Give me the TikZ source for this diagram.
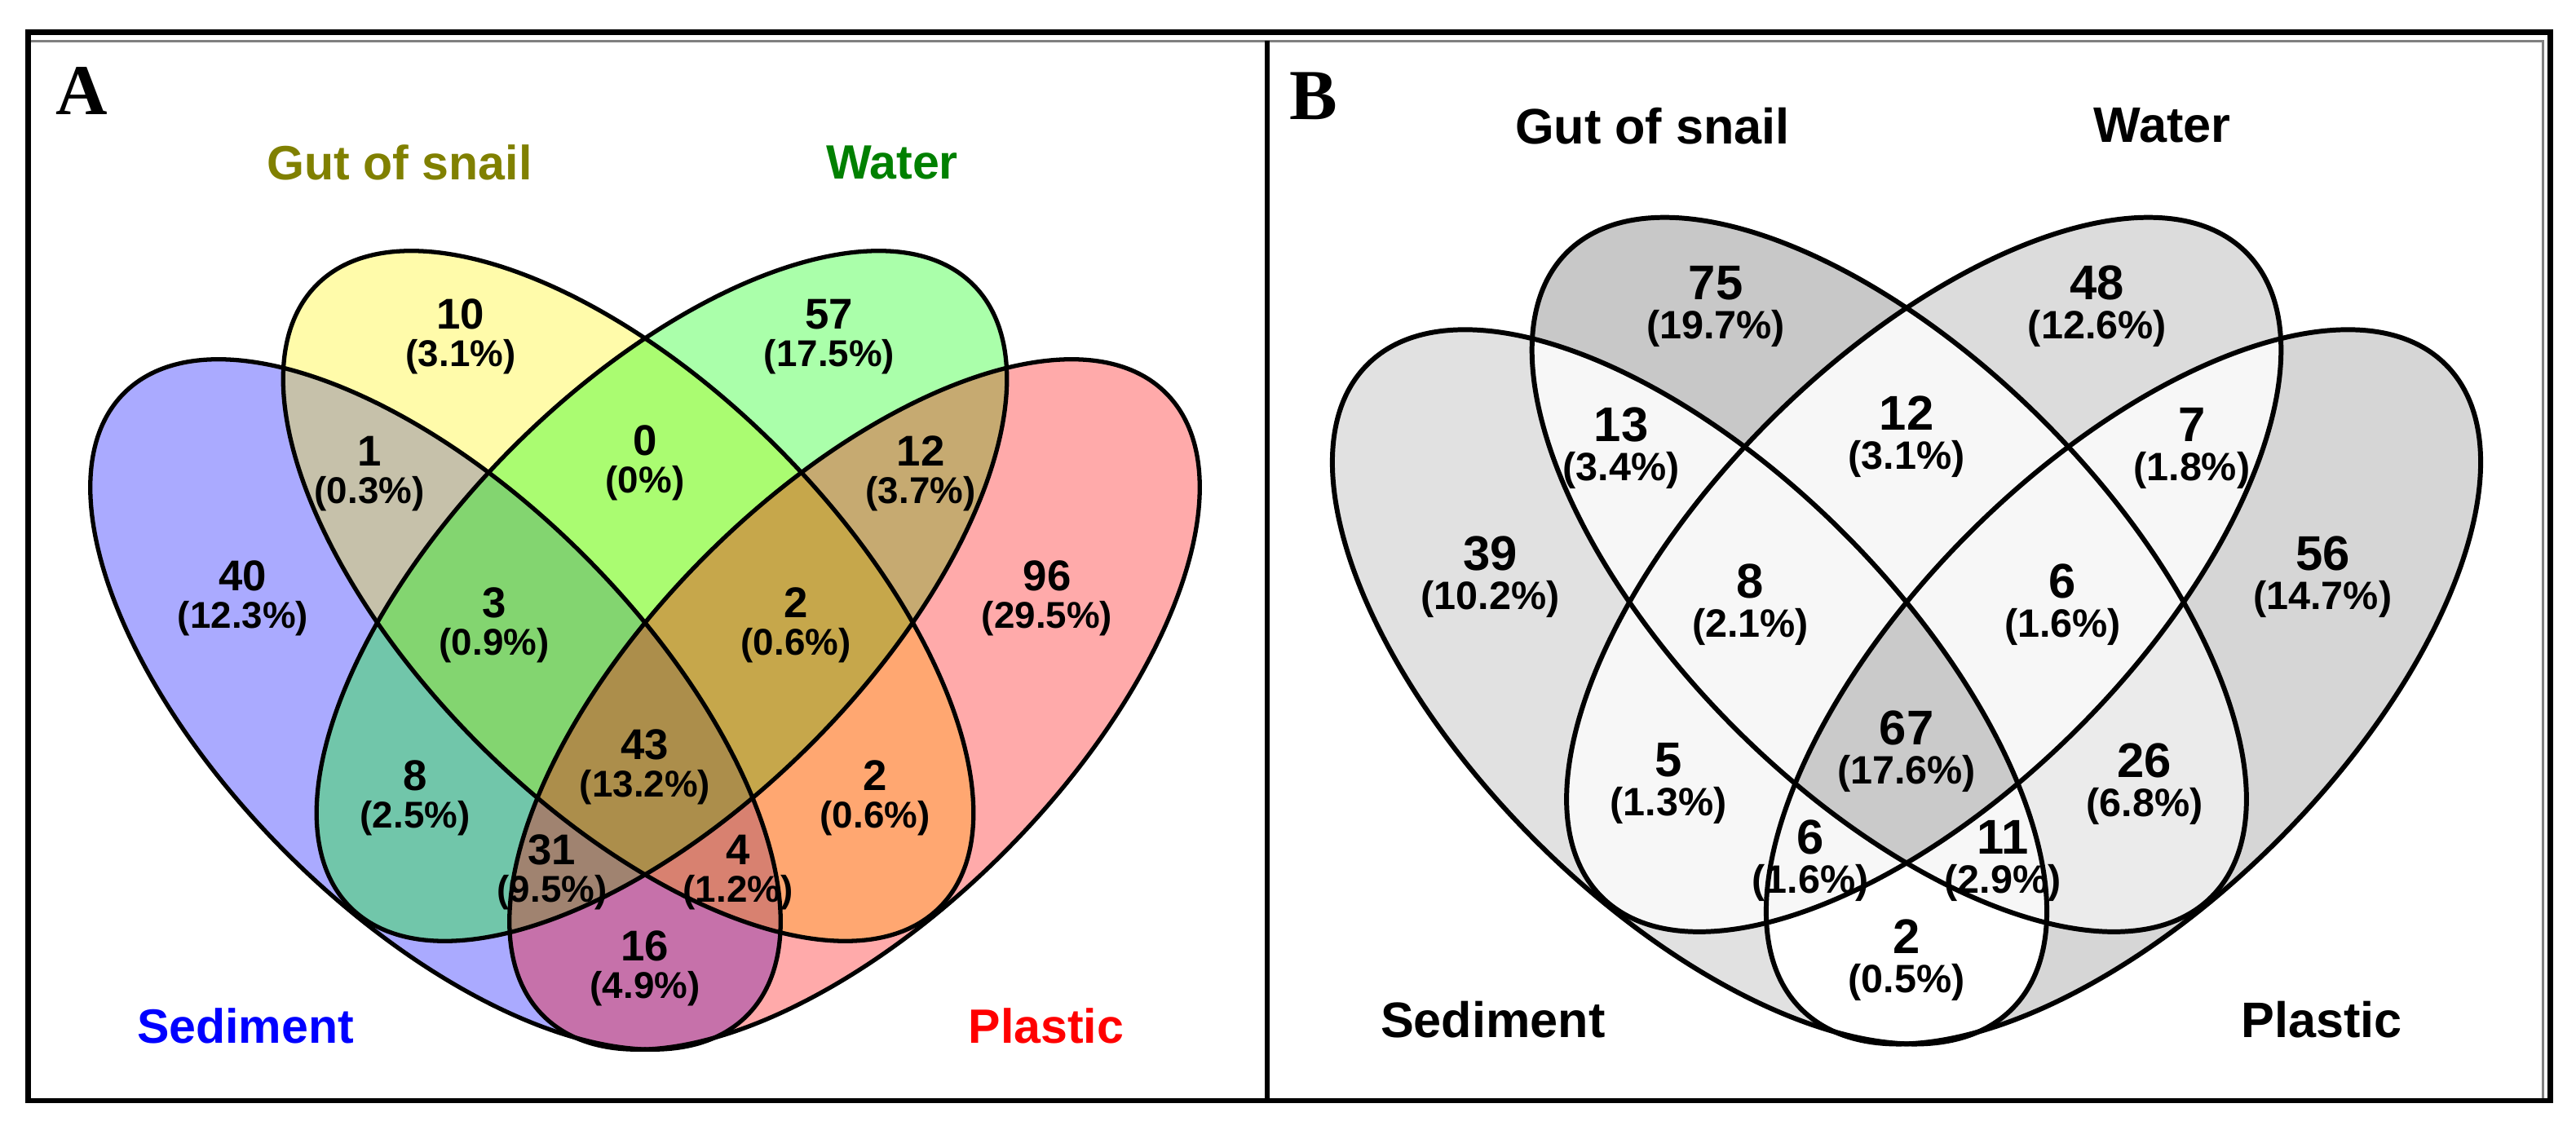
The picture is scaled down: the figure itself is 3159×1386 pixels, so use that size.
\documentclass[tikz,border=0pt]{standalone}
\usepackage{fontspec}
\setmainfont{Liberation Sans}
\newfontfamily\letterfont{Liberation Serif}
\usepackage{tikz}

\definecolor{guttext}{RGB}{128,128,0}
\definecolor{watertext}{RGB}{0,128,0}
\definecolor{bbase}{HTML}{F7F7F7}
\definecolor{bsed}{HTML}{E1E1E1}
\definecolor{bgut}{HTML}{C8C8C8}
\definecolor{bwat}{HTML}{DCDCDC}
\definecolor{bpla}{HTML}{D6D6D6}
\definecolor{bgp}{HTML}{EBEBEB}
\definecolor{ball}{HTML}{CACACA}

% the four ellipses, in the local frame of one panel
\newcommand{\sedshape}[1]{\path[#1,rotate around={-45:(-257,864)}] (-257,864) ellipse [x radius=540,y radius=258];}
\newcommand{\gutshape}[1]{\path[#1,rotate around={-45:(-20.5,731)}] (-20.5,731) ellipse [x radius=540,y radius=258];}
\newcommand{\watshape}[1]{\path[#1,rotate around={45:(20.5,731)}] (20.5,731) ellipse [x radius=540,y radius=258];}
\newcommand{\plashape}[1]{\path[#1,rotate around={45:(257,864)}] (257,864) ellipse [x radius=540,y radius=258];}
% size of the percentage line
\newcommand{\pctA}{\fontsize{13}{13.2}\selectfont}
\newcommand{\pctB}{\fontsize{13.8}{13.65}\selectfont}

\begin{document}
\begin{tikzpicture}[x=0.01cm, y=-0.01cm,
    regA/.style={font=\bfseries\fontsize{15}{13.2}\selectfont, align=center, inner sep=0pt},
    regB/.style={font=\bfseries\fontsize{17}{13.65}\selectfont, align=center, inner sep=0pt},
    catA/.style={font=\bfseries\fontsize{16.8}{19}\selectfont, inner sep=0pt},
    catB/.style={font=\bfseries\fontsize{17.4}{20}\selectfont, inner sep=0pt},
    panelname/.style={font=\letterfont\bfseries\fontsize{25}{28}\selectfont, inner sep=0pt}]
  \useasboundingbox (0,0) rectangle (3159,1386);

  % Frame and divider
  \draw[line width=1.85pt] (34.5,39.5) rectangle (3127.5,1350);
  \draw[gray, line width=0.9pt] (38,50.5) -- (3118.5,50.5) -- (3118.5,1347);
  \draw[line width=1.7pt] (1553.5,50) -- (1553.5,1347);

  % Panel letters
  \node[panelname] (letA) at (100,111) {A};
  \node[panelname] (letB) at (1611,117.5) {B};

  % ---- Panel A: coloured Venn ----
  \begin{scope}[shift={(791,0)}]
    % Transparent fills
    \sedshape{fill=blue, fill opacity=0.333}
    \gutshape{fill=yellow, fill opacity=0.333}
    \watshape{fill=green, fill opacity=0.333}
    \plashape{fill=red, fill opacity=0.333}
    % Outlines
    \sedshape{draw, line width=1.5pt}
    \gutshape{draw, line width=1.5pt}
    \watshape{draw, line width=1.5pt}
    \plashape{draw, line width=1.5pt}

    % Counts
    \foreach \px/\py/\cnt/\pc [count=\i] in {-226/385/10/3.1, 226/385/57/17.5,
        -338/553/1/0.3, 0/540/0/0, 338/553/12/3.7, -493/706/40/12.3, 493/706/96/29.5,
        -185/739/3/0.9, 185/739/2/0.6, -282/951/8/2.5, 0/913/43/13.2, 282/951/2/0.6,
        -114/1042/31/9.5, 114/1042/4/1.2, 0/1160/16/4.9} {
      \node[regA] (a\i) at ({\px},{\py+28}) {\cnt\\{\pctA(\pc\%)}};
    }

    % Set names
    \node[catA, text=guttext] (gutA) at (-301,199) {Gut of snail};
    \node[catA, text=watertext] (watA) at (303,199) {Water};
    \node[catA, text=blue] (sedA) at (-490,1258) {Sediment};
    \node[catA, text=red] (plaA) at (492,1258) {Plastic};
  \end{scope}

  % ---- Panel B: grey Venn ----
  \begin{scope}[shift={(2338,-51.8)}, scale=1.035]
    % Base fill
    \sedshape{fill=bbase}
    \gutshape{fill=bbase}
    \watshape{fill=bbase}
    \plashape{fill=bbase}
    % Single-set regions
    \begin{scope}
      \sedshape{clip} \sedshape{fill=bsed}
      \gutshape{fill=bbase} \watshape{fill=bbase} \plashape{fill=bbase}
    \end{scope}
    \begin{scope}
      \gutshape{clip} \gutshape{fill=bgut}
      \sedshape{fill=bbase} \watshape{fill=bbase} \plashape{fill=bbase}
    \end{scope}
    \begin{scope}
      \watshape{clip} \watshape{fill=bwat}
      \sedshape{fill=bbase} \gutshape{fill=bbase} \plashape{fill=bbase}
    \end{scope}
    \begin{scope}
      \plashape{clip} \plashape{fill=bpla}
      \sedshape{fill=bbase} \gutshape{fill=bbase} \watshape{fill=bbase}
    \end{scope}
    % Sediment and plastic only
    \begin{scope}
      \sedshape{clip} \plashape{clip} \plashape{fill=white}
      \gutshape{fill=bbase} \watshape{fill=bbase}
    \end{scope}
    % Gut and plastic only
    \begin{scope}
      \gutshape{clip} \plashape{clip} \plashape{fill=bgp}
      \sedshape{fill=bbase} \watshape{fill=bbase}
    \end{scope}
    % All four
    \begin{scope}
      \sedshape{clip} \gutshape{clip} \watshape{clip} \plashape{fill=ball}
    \end{scope}
    % Outlines
    \sedshape{draw, line width=1.7pt}
    \gutshape{draw, line width=1.7pt}
    \watshape{draw, line width=1.7pt}
    \plashape{draw, line width=1.7pt}

    % Counts
    \foreach \px/\py/\cnt/\pc [count=\i] in {-226/385/75/19.7, 226/385/48/12.6,
        -338/553/13/3.4, 0/540/12/3.1, 338/553/7/1.8, -493/706/39/10.2, 493/706/56/14.7,
        -185/739/8/2.1, 185/739/6/1.6, -282/951/5/1.3, 0/913/67/17.6, 282/951/26/6.8,
        -114/1042/6/1.6, 114/1042/11/2.9, 0/1160/2/0.5} {
      \node[regB] (b\i) at ({\px},{\py+28}) {\cnt\\{\pctB(\pc\%)}};
    }

    % Set names
    \node[catB] (gutB) at (-301,199) {Gut of snail};
    \node[catB] (watB) at (303,199) {Water};
    \node[catB] (sedB) at (-490,1258) {Sediment};
    \node[catB] (plaB) at (492,1258) {Plastic};
  \end{scope}
\end{tikzpicture}
\end{document}
